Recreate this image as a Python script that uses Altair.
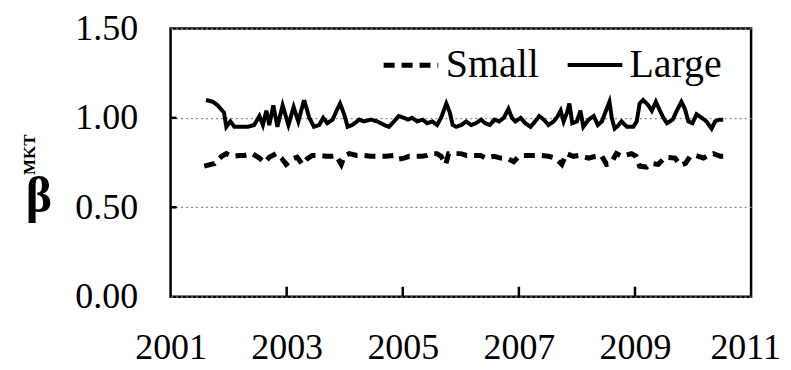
import altair as alt
import pandas as pd

# ---- data ----
series_names = ["Small", "Large"]

large_t = [2001.61, 2001.73, 2001.81, 2001.92, 2001.96, 2002.03, 2002.10, 2002.33, 2002.44, 2002.53,
           2002.59, 2002.65, 2002.70, 2002.77, 2002.84, 2002.93, 2003.03, 2003.12, 2003.20, 2003.30,
           2003.39, 2003.47, 2003.56, 2003.63, 2003.70, 2003.79, 2003.86, 2003.92, 2003.99, 2004.05,
           2004.13, 2004.25, 2004.33, 2004.45, 2004.56, 2004.68, 2004.76, 2004.85, 2004.93, 2005.02,
           2005.09, 2005.16, 2005.25, 2005.34, 2005.42, 2005.51, 2005.59, 2005.66, 2005.75, 2005.81,
           2005.86, 2005.92, 2006.01, 2006.09, 2006.18, 2006.26, 2006.35, 2006.42, 2006.50, 2006.58,
           2006.66, 2006.74, 2006.82, 2006.88, 2006.94, 2007.03, 2007.11, 2007.20, 2007.28, 2007.35,
           2007.43, 2007.51, 2007.60, 2007.67, 2007.72, 2007.77, 2007.83, 2007.87, 2007.92, 2008.00,
           2008.06, 2008.11, 2008.20, 2008.29, 2008.36, 2008.43, 2008.50, 2008.56, 2008.60, 2008.65,
           2008.69, 2008.77, 2008.86, 2008.97, 2009.03, 2009.08, 2009.14, 2009.23, 2009.29, 2009.36,
           2009.43, 2009.49, 2009.55, 2009.65, 2009.72, 2009.80, 2009.86, 2009.92, 2009.99, 2010.06,
           2010.15, 2010.23, 2010.32, 2010.38, 2010.45, 2010.52]
large_v = [1.10, 1.09, 1.07, 1.03, 0.95, 0.98, 0.95, 0.95, 0.96, 1.01,
           0.96, 1.04, 0.96, 1.07, 0.95, 1.07, 0.96, 1.06, 0.98, 1.10,
           1.00, 0.95, 0.96, 1.00, 0.97, 0.99, 1.04, 1.08, 1.02, 0.95,
           0.96, 0.99, 0.98, 0.99, 0.98, 0.96, 0.95, 0.98, 1.01, 1.00,
           0.99, 1.00, 0.98, 0.99, 0.97, 0.98, 0.96, 1.00, 1.08, 1.03,
           0.96, 0.95, 0.96, 0.98, 0.96, 0.97, 0.99, 0.97, 0.96, 0.99,
           0.98, 1.00, 1.05, 1.00, 0.98, 1.00, 0.97, 0.95, 0.98, 1.01,
           0.99, 0.96, 0.98, 1.01, 1.04, 0.98, 1.03, 1.08, 0.97, 0.98,
           1.04, 0.95, 0.99, 1.01, 0.96, 0.98, 1.04, 1.09, 1.00, 0.94,
           0.95, 0.98, 0.95, 0.95, 0.98, 1.08, 1.10, 1.07, 1.04, 1.09,
           1.04, 1.00, 0.97, 0.99, 1.04, 1.09, 1.05, 0.98, 0.97, 1.02,
           1.00, 0.98, 0.94, 0.98, 0.99, 0.99]

small_t = [2001.58, 2001.76, 2001.88, 2001.96, 2002.07, 2002.19, 2002.27, 2002.41, 2002.53, 2002.62,
           2002.70, 2002.82, 2002.91, 2002.99, 2003.10, 2003.18, 2003.27, 2003.35, 2003.44, 2003.56,
           2003.68, 2003.77, 2003.85, 2003.94, 2003.99, 2004.08, 2004.21, 2004.33, 2004.45, 2004.54,
           2004.64, 2004.71, 2004.85, 2004.93, 2005.02, 2005.11, 2005.19, 2005.33, 2005.42, 2005.50,
           2005.59, 2005.66, 2005.74, 2005.79, 2005.88, 2006.00, 2006.10, 2006.17, 2006.26, 2006.34,
           2006.43, 2006.57, 2006.69, 2006.82, 2006.91, 2007.00, 2007.08, 2007.25, 2007.37, 2007.51,
           2007.63, 2007.74, 2007.82, 2007.94, 2008.03, 2008.20, 2008.32, 2008.42, 2008.51, 2008.58,
           2008.68, 2008.77, 2008.94, 2009.02, 2009.08, 2009.20, 2009.28, 2009.40, 2009.52, 2009.69,
           2009.78, 2009.87, 2009.95, 2010.05, 2010.18, 2010.26, 2010.35, 2010.47, 2010.52]
small_v = [0.730, 0.745, 0.785, 0.800, 0.785, 0.790, 0.790, 0.800, 0.775, 0.750,
           0.780, 0.800, 0.775, 0.740, 0.770, 0.780, 0.740, 0.770, 0.790, 0.790,
           0.785, 0.785, 0.790, 0.740, 0.785, 0.800, 0.790, 0.790, 0.785, 0.785,
           0.785, 0.785, 0.790, 0.770, 0.775, 0.785, 0.785, 0.785, 0.790, 0.800,
           0.800, 0.785, 0.740, 0.800, 0.800, 0.800, 0.790, 0.790, 0.790, 0.790,
           0.775, 0.785, 0.775, 0.770, 0.755, 0.785, 0.790, 0.790, 0.790, 0.785,
           0.775, 0.740, 0.800, 0.785, 0.790, 0.775, 0.785, 0.790, 0.740, 0.745,
           0.800, 0.785, 0.800, 0.785, 0.730, 0.725, 0.745, 0.740, 0.780, 0.775,
           0.735, 0.745, 0.785, 0.790, 0.775, 0.790, 0.800, 0.785, 0.785]

x_tick_labels = [2001, 2003, 2005, 2007, 2009, 2011]
y_tick_labels = [0.0, 0.5, 1.0, 1.5]
inner_x_ticks = [2003, 2005, 2007, 2009]
inner_y_ticks = [0.5, 1.0]

assert len(large_t) == len(large_v)
assert len(small_t) == len(small_v)

df = pd.concat([
    pd.DataFrame({"year": small_t, "beta": small_v, "series": "Small"}),
    pd.DataFrame({"year": large_t, "beta": large_v, "series": "Large"}),
])

W, H = 582, 269
FONT = "Liberation Serif"

x_scale = alt.Scale(domain=[2001, 2011], nice=False, zero=False)
y_scale = alt.Scale(domain=[0, 1.5], nice=False)

x_axis = alt.Axis(values=x_tick_labels, format="d", title=None, grid=False, domain=False,
                  ticks=False, labelFont=FONT, labelFontSize=36, labelColor="black",
                  labelBaseline="alphabetic", labelPadding=62, labelFlush=False,
                  labelOverlap=False,
                  labelOffset={"condition": {"test": "datum.value == 2011", "value": -6},
                               "value": 0})
y_axis = alt.Axis(values=y_tick_labels, format=".2f", title=None, grid=True,
                  gridColor="#8a8a8a", gridDash=[2, 3], gridWidth=1.2, domain=False,
                  ticks=False, labelFont=FONT, labelFontSize=36, labelColor="black",
                  labelPadding=33, labelOverlap=False)

lines = alt.Chart(df).mark_line(color="black").encode(
    x=alt.X("year:Q", scale=x_scale, axis=x_axis),
    y=alt.Y("beta:Q", scale=y_scale, axis=y_axis),
    strokeDash=alt.StrokeDash(
        "series:N",
        scale=alt.Scale(domain=series_names, range=[[11, 7], [1, 0]]),
        legend=alt.Legend(title=None, orient="none", legendX=211, legendY=7,
                          direction="horizontal", symbolType="stroke", symbolSize=3000,
                          symbolStrokeWidth=3.5, symbolStrokeColor="black",
                          labelFont=FONT, labelFontSize=40, labelColor="black",
                          labelOffset=5, columnPadding=20, padding=0, labelLimit=0),
    ),
    strokeWidth=alt.StrokeWidth(
        "series:N", scale=alt.Scale(domain=series_names, range=[5, 4]), legend=None),
    order=alt.Order("year:Q"),
)

bottom_ticks = alt.Chart(pd.DataFrame({"t": inner_x_ticks})).mark_rule(
    color="black", strokeWidth=2.5).encode(
    x=alt.X("t:Q", scale=x_scale, axis=x_axis),
    y=alt.value(H), y2=alt.value(H - 10),
)
left_ticks = alt.Chart(pd.DataFrame({"v": inner_y_ticks})).mark_rule(
    color="black", strokeWidth=2.5).encode(
    y=alt.Y("v:Q", scale=y_scale, axis=y_axis),
    x=alt.value(0), x2=alt.value(6),
)

one = alt.Data(values=[{}])
beta_txt = alt.Chart(one).mark_text(
    text="β", align="center", baseline="alphabetic", font=FONT,
    fontSize=50, fontWeight="bold", color="black").encode(
    x=alt.value(-132), y=alt.value(184))
mkt_txt = alt.Chart(one).mark_text(
    text="MKT", angle=270, align="left", baseline="alphabetic", font=FONT,
    fontSize=17, fontWeight="bold", color="black").encode(
    x=alt.value(-136), y=alt.value(147))

chart = alt.layer(lines, bottom_ticks, left_ticks, beta_txt, mkt_txt).properties(
    width=W, height=H,
    padding={"left": 163, "top": 20, "right": 32, "bottom": 72},
    autosize=alt.AutoSizeParams(type="none"),
    background="white",
).configure_view(stroke="black", strokeWidth=2.5)

chart.save("out.html", embed_options={"renderer": "svg", "actions": False})
